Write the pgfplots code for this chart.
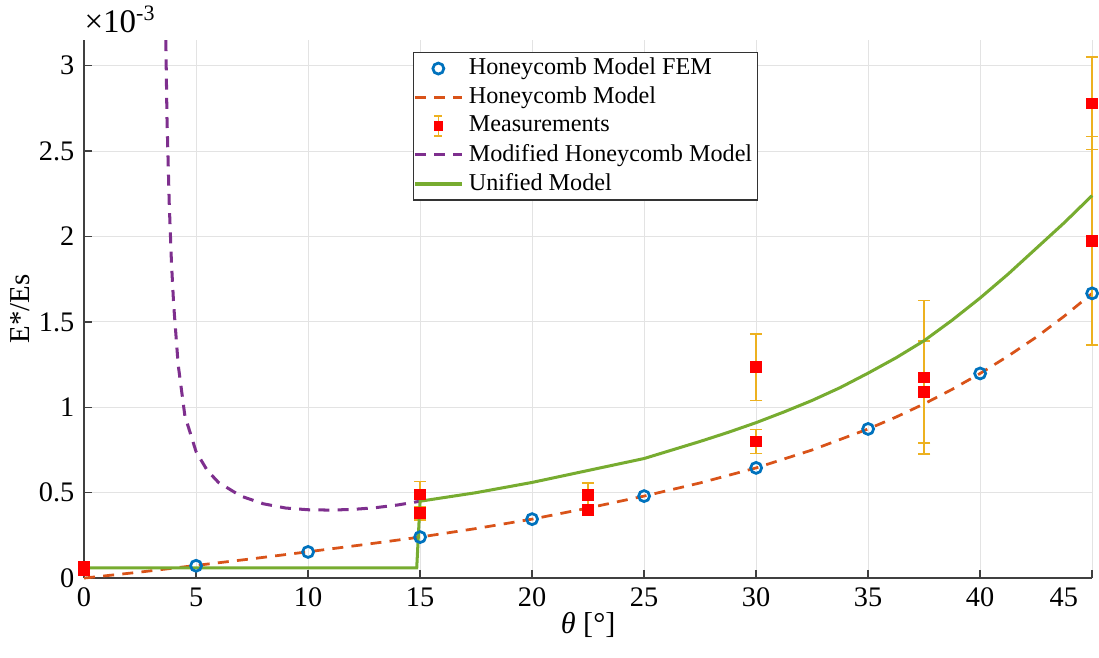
\documentclass[border=0pt]{standalone}
\usepackage{pgfplots}
\pgfplotsset{compat=1.18}
\usepackage{fontspec}
\setmainfont{Liberation Serif}

\definecolor{mblue}{RGB}{0,114,189}
\definecolor{morange}{RGB}{217,83,25}
\definecolor{myellow}{RGB}{237,177,32}
\definecolor{mpurple}{RGB}{126,47,142}
\definecolor{mgreen}{RGB}{119,172,48}

\begin{document}
\begin{tikzpicture}
\begin{axis}[
  scale only axis,
  width=366.9pt, height=195.8pt,
  xmin=0, xmax=45, ymin=0, ymax=3.15,
  xtick={0,5,...,45},
  xticklabels={0,5,10,15,20,25,30,35,40,\makebox[0pt][r]{45}\phantom{45}},
  ytick={0,0.5,1,1.5,2,2.5,3},
  axis x line*=bottom, axis y line*=left,
  tick align=inside, major tick length=3pt,
  grid=major,
  grid style={gray!22, line width=0.4pt},
  axis line style={black!75, line width=0.5pt},
  tick style={black!75, line width=0.5pt},
  ticklabel style={font=\fontsize{10.3}{12}\selectfont},
  /pgf/number format/assume math mode=true,
  xlabel={\textit{θ} [°]},
  xlabel style={font=\fontsize{11}{13}\selectfont, at={(axis description cs:0.5,0)}, anchor=center, yshift=-17pt},
  ylabel={E*/Es},
  ylabel style={font=\fontsize{10.5}{13}\selectfont, at={(axis description cs:0,0.5)}, anchor=center, rotate=0, yshift=23.3pt},
  clip=false,
  legend style={at={(0.326,0.978)}, anchor=north west, draw=black!80,
    line width=0.5pt, fill=white, font=\fontsize{8.8}{10}\selectfont,
    row sep=-1.05pt, inner sep=0pt},
  legend cell align=left,
]

% FEM results
\addplot[only marks, mark=o, mark size=2pt, mblue, line width=1pt]
coordinates {
  (5,0.072) (10,0.153) (15,0.24) (20,0.345) (25,0.48)
  (30,0.645) (35,0.873) (40,1.198) (45,1.667)
};
\addlegendentry{Honeycomb Model FEM}

% honeycomb model
\addplot[morange, line width=1pt, dash pattern=on 4pt off 3pt]
coordinates {
  (0,0) (2.5,0.035) (5,0.074) (7.5,0.113) (10,0.154) (12.5,0.196)
  (15,0.24) (17.5,0.29) (20,0.345) (22.5,0.41) (25,0.48) (27.5,0.557)
  (30,0.645) (32.5,0.75) (35,0.873) (36.25,0.943) (37.5,1.02) (38.75,1.105)
  (40,1.198) (41.25,1.30) (42.5,1.41) (43.75,1.533) (45,1.667)
};
\addlegendentry{Honeycomb Model}

% measurements
\addplot[only marks, mark=square*, mark size=1.9pt, color=red,
  legend image code/.code={
    \draw[myellow, line width=0.6pt] (0.3cm,-0.13cm) -- (0.3cm,0.13cm)
      (0.25cm,0.13cm) -- (0.35cm,0.13cm) (0.25cm,-0.13cm) -- (0.35cm,-0.13cm);
    \fill[red] (0.255cm,-0.055cm) rectangle (0.345cm,0.055cm);
  },
  error bars/.cd, y dir=both, y explicit,
  error bar style={myellow, line width=0.6pt},
  error mark options={rotate=90, myellow, mark size=2.3pt, line width=0.6pt}]
coordinates {
  (0,0.065) +- (0,0.01)
  (0,0.045) +- (0,0.01)
  (15,0.49) +- (0,0.075)
  (15,0.38) +- (0,0.04)
  (22.5,0.485) +- (0,0.07)
  (22.5,0.40) +- (0,0.03)
  (30,1.235) +- (0,0.195)
  (30,0.80) +- (0,0.07)
  (37.5,1.175) +- (0,0.45)
  (37.5,1.09) +- (0,0.30)
  (45,2.78) +- (0,0.27)
  (45,1.975) +- (0,0.61)
};
\addlegendentry{Measurements}

% modified honeycomb model
\addplot[mpurple, line width=1.1pt, dash pattern=on 4pt off 3pt]
coordinates {
  (3.65,3.15) (3.7,2.7) (3.8,2.2) (3.9,1.85) (4.0,1.6) (4.2,1.25)
  (4.5,0.95) (5,0.74) (5.5,0.63) (6,0.56) (7,0.48) (8,0.435)
  (9,0.41) (10,0.40) (11,0.398) (12,0.402) (13,0.412) (14,0.428) (15,0.45)
};
\addlegendentry{Modified Honeycomb Model}

% unified model
\addplot[mgreen, line width=1.1pt]
coordinates {
  (0,0.06) (14.85,0.06) (15,0.45) (16.25,0.475) (17.5,0.50) (18.75,0.53)
  (20,0.56) (21.25,0.595) (22.5,0.63) (23.75,0.665) (25,0.70) (26.25,0.75)
  (27.5,0.80) (28.75,0.853) (30,0.91) (31.25,0.973) (32.5,1.04) (33.75,1.115)
  (35,1.20) (36.25,1.29) (37.5,1.39) (38.75,1.51) (40,1.64) (41.25,1.78)
  (42.5,1.93) (43.75,2.08) (45,2.24)
};
\addlegendentry{Unified Model}

\node[anchor=south west, inner sep=0pt, font=\fontsize{12}{14}\selectfont]
  at ([yshift=2.5pt]rel axis cs:0,1) {×10\textsuperscript{-3}};
\end{axis}
\pgfresetboundingbox
\useasboundingbox ([xshift=-30.6pt,yshift=-28.8pt]current axis.south west)
  rectangle ([xshift=2.5pt,yshift=14.6pt]current axis.north east);
\end{tikzpicture}
\end{document}
